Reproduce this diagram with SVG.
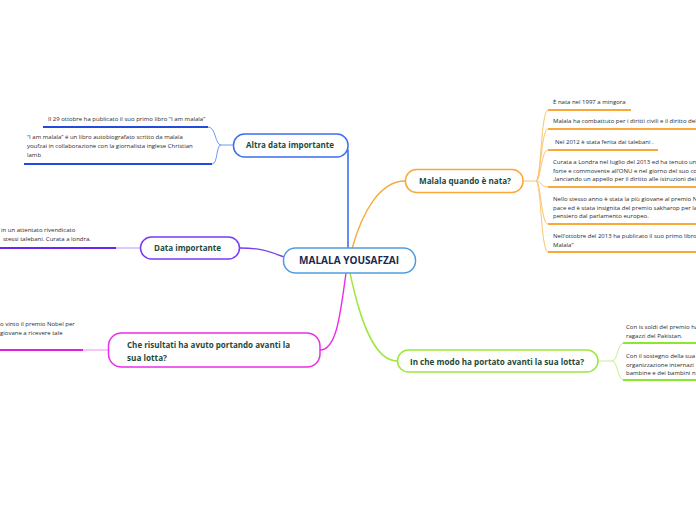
<svg xmlns="http://www.w3.org/2000/svg" width="696" height="520" viewBox="0 0 696 520">
<style>
.bg{fill:#ffffff}
.box{fill:#ffffff;stroke-width:1.5}
.lbl{font-family:"Open Sans","Noto Sans",sans-serif;font-weight:bold;font-size:8px;fill:#1d4a3b}
.ctr{font-family:"Open Sans","Noto Sans",sans-serif;font-weight:bold;font-size:10px;fill:#1b2a4e}
.sm{font-family:"Open Sans","Noto Sans",sans-serif;font-size:6px;fill:#2a2a2a}
.c{fill:none;stroke-linecap:round}
.ul{fill:none;stroke-width:2}
</style>
<rect class="bg" x="0" y="0" width="696" height="520"/>
<g id="connectors">
  <!-- main connectors -->
  <path class="c" d="M348,249 L348,150" stroke="#3b6fee" stroke-width="1.6"/>
  <path class="c" d="M352,249 C362,212 380,181 405,181" stroke="#f8a93a" stroke-width="1.4"/>
  <path class="c" d="M284,257 C266,250 258,248 240,248" stroke="#7a3cf2" stroke-width="1.4"/>
  <path class="c" d="M346,273 C340,318 336,350 320,350" stroke="#ea2ee6" stroke-width="1.4"/>
  <path class="c" d="M350,273 C360,320 374,361 397,361" stroke="#9ce83c" stroke-width="1.4"/>
  <!-- orange branches -->
  <g stroke="#fcc46e" stroke-width="1" fill="none">
    <path d="M523,181 L536,181"/>
    <path d="M536,181 C541,181 541,110 548,110"/>
    <path d="M536,181 C541,181 541,129 548,129"/>
    <path d="M536,181 C541,181 541,150 548,150"/>
    <path d="M536,181 C541,181 541,187 548,187"/>
    <path d="M536,181 C541,181 541,224 548,224"/>
    <path d="M536,181 C541,181 541,252 548,252"/>
  </g>
  <!-- blue branches -->
  <g stroke="#6f98f4" stroke-width="1" fill="none">
    <path d="M233,145 L221,145"/>
    <path d="M221,145 C215,145 216,127 208,127"/>
    <path d="M221,145 C216,145 218,164 212,164"/>
  </g>
  <!-- purple branch -->
  <path d="M140,248 L116,248" stroke="#b596f8" stroke-width="1" fill="none"/>
  <!-- magenta branch -->
  <path d="M108,350 L83,350" stroke="#f08cf0" stroke-width="1" fill="none"/>
  <!-- green branches -->
  <g stroke="#c1f38a" stroke-width="1" fill="none">
    <path d="M598,361 L612,361"/>
    <path d="M612,361 C618,361 617,343 624,343"/>
    <path d="M612,361 C618,361 617,380 624,380"/>
  </g>
</g>

<g id="center">
  <rect class="box" x="283.5" y="248" width="132" height="25" rx="12" stroke="#4f9ddf"/>
  <text class="ctr" x="349" y="264.3" text-anchor="middle" textLength="100" lengthAdjust="spacingAndGlyphs">MALALA YOUSAFZAI</text>
</g>

<g id="altra-data">
  <rect class="box" x="233.5" y="134" width="114.5" height="23" rx="11" stroke="#3b6fee"/>
  <text class="lbl" x="246" y="148.2" textLength="88" lengthAdjust="spacingAndGlyphs">Altra data importante</text>
  <text class="sm" x="48" y="121">Il 29 ottobre ha publicato il suo primo libro “I am malala”</text>
  <path class="ul" d="M43,127 L208,127" stroke="#2449dd"/>
  <text class="sm" x="27" y="139">“I am malala” é un libro autobiografato scritto da malala</text>
  <text class="sm" x="27" y="148">youfzai in collaborazione con la giornalista inglese Christian</text>
  <text class="sm" x="27" y="157">lamb</text>
  <path class="ul" d="M24,164 L212,164" stroke="#2449dd"/>
</g>

<g id="data-importante">
  <rect class="box" x="140.5" y="237" width="99" height="22" rx="11" stroke="#7a3cf2"/>
  <text class="lbl" x="154" y="251" textLength="67" lengthAdjust="spacingAndGlyphs">Data importante</text>
  <text class="sm" x="1" y="232">in un attentato rivendicato</text>
  <text class="sm" x="3" y="241">stessi talebani. Curata a londra.</text>
  <path class="ul" d="M0,248 L116,248" stroke="#6a26f0"/>
</g>

<g id="che-risultati">
  <rect class="box" x="108.5" y="333" width="211.5" height="34" rx="13" stroke="#ea2ee6"/>
  <text class="lbl" x="127" y="348" textLength="163" lengthAdjust="spacingAndGlyphs">Che risultati ha avuto portando avanti la</text>
  <text class="lbl" x="127" y="360.5" textLength="40" lengthAdjust="spacingAndGlyphs">sua lotta?</text>
  <text class="sm" x="0" y="326">o vinto il premio Nobel per</text>
  <text class="sm" x="0" y="335">giovane a ricevere tale</text>
  <path class="ul" d="M0,350 L83,350" stroke="#e21fe0"/>
</g>

<g id="quando-nata">
  <rect class="box" x="405.5" y="169.5" width="117.5" height="23" rx="11" stroke="#f8a93a"/>
  <text class="lbl" x="419" y="184.2" textLength="92" lengthAdjust="spacingAndGlyphs">Malala quando è nata?</text>
  <text class="sm" x="553" y="104">È nata nel 1997 a mingora</text>
  <path class="ul" d="M548,110 L631,110" stroke="#f8a93a"/>
  <text class="sm" x="553" y="123">Malala ha combattuto per i diritti civili e il diritto dell</text>
  <path class="ul" d="M548,129 L696,129" stroke="#f8a93a"/>
  <text class="sm" x="555" y="144">Nel 2012 è stata ferita dai talebani .</text>
  <path class="ul" d="M548,150 L658,150" stroke="#f8a93a"/>
  <text class="sm" x="553" y="164">Curata a Londra nel luglio del 2013 ed ha tenuto un</text>
  <text class="sm" x="553" y="172.5">forte e commovente all’ONU e nel giorno del suo co</text>
  <text class="sm" x="553" y="181">,lanciando un appello per il diritto alle istruzioni dei</text>
  <path class="ul" d="M548,187 L696,187" stroke="#f8a93a"/>
  <text class="sm" x="553" y="201">Nello stesso anno è stata la più giovane al premio N</text>
  <text class="sm" x="553" y="209.5">pace ed è stata insignita del premio sakharop per la</text>
  <text class="sm" x="553" y="218">pensiero dal parlamento europeo.</text>
  <path class="ul" d="M548,224 L696,224" stroke="#f8a93a"/>
  <text class="sm" x="553" y="238">Nell'ottobre del 2013 ha publicato il suo primo libro“</text>
  <text class="sm" x="553" y="246.5">Malala”</text>
  <path class="ul" d="M548,252 L696,252" stroke="#f8a93a"/>
</g>

<g id="in-che-modo">
  <rect class="box" x="397.5" y="350" width="200.5" height="22" rx="11" stroke="#9ce83c"/>
  <text class="lbl" x="410" y="365" textLength="174" lengthAdjust="spacingAndGlyphs">In che modo ha portato avanti la sua lotta?</text>
  <text class="sm" x="626" y="329">Con is soldi del premio ha</text>
  <text class="sm" x="626" y="337.5">ragazzi del Pakistan.</text>
  <path class="ul" d="M623,343 L696,343" stroke="#8ae62e"/>
  <text class="sm" x="626" y="358">Con il sostegno della sua</text>
  <text class="sm" x="626" y="366.5">organizzazione internazi</text>
  <text class="sm" x="626" y="375">bambine e dei bambini n</text>
  <path class="ul" d="M623,380 L696,380" stroke="#8ae62e"/>
</g>
</svg>
